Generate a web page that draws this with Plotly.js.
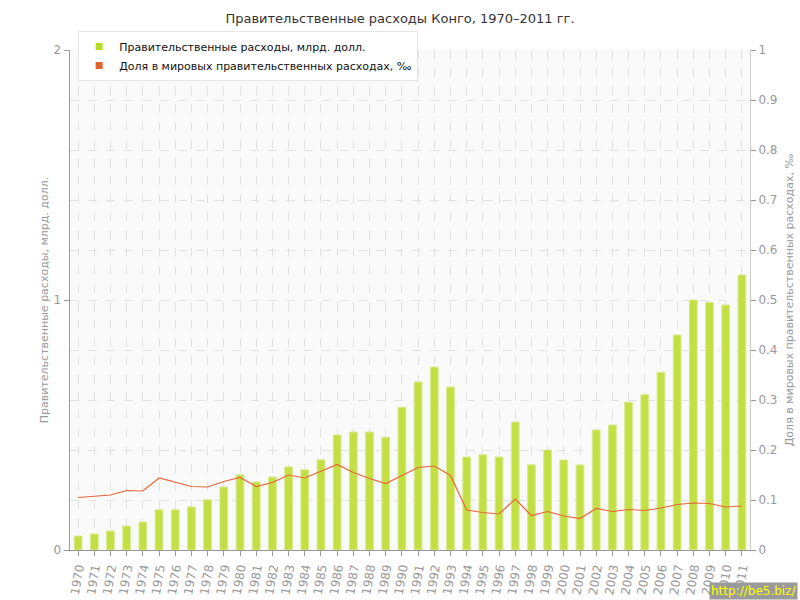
<!DOCTYPE html>
<html>
<head>
<meta charset="utf-8">
<script src="https://cdn.plot.ly/plotly-3.0.1.min.js"></script>
<style>html,body{margin:0;padding:0;background:#fff;}#chart{width:800px;height:600px;}</style>
</head>
<body>
<div id="chart"></div>
<script>
const years = ["1970","1971","1972","1973","1974","1975","1976","1977","1978","1979","1980","1981","1982","1983","1984","1985","1986","1987","1988","1989","1990","1991","1992","1993","1994","1995","1996","1997","1998","1999","2000","2001","2002","2003","2004","2005","2006","2007","2008","2009","2010","2011"];
const spending = [0.056,0.064,0.076,0.096,0.112,0.161,0.161,0.172,0.201,0.252,0.301,0.272,0.292,0.332,0.321,0.361,0.46,0.472,0.472,0.451,0.571,0.672,0.732,0.652,0.372,0.381,0.372,0.512,0.341,0.4,0.36,0.34,0.48,0.5,0.591,0.621,0.711,0.86,1.0,0.991,0.98,1.1];
const share = [0.105,0.107,0.11,0.119,0.118,0.144,0.135,0.127,0.126,0.137,0.145,0.127,0.135,0.15,0.144,0.157,0.171,0.155,0.143,0.133,0.149,0.165,0.168,0.149,0.08,0.075,0.072,0.102,0.069,0.077,0.068,0.063,0.083,0.077,0.081,0.079,0.084,0.091,0.094,0.093,0.086,0.088];
const seriesNames = ["Правительственные расходы, млрд. долл.", "Доля в мировых правительственных расходах, ‰"];
const barColor = "#c4df43";
const lineColor = "#e8653a";
const font = "DejaVu Sans, Verdana, sans-serif";

const traces = [
  {type:"bar", x:years, y:spending, name:seriesNames[0], showlegend:false, width:0.48,
   marker:{color:barColor, line:{color:"#d9ea90", width:1}}, yaxis:"y", hoverinfo:"x+y"},
  {type:"scatter", mode:"lines", x:years, y:share, name:seriesNames[1], showlegend:false,
   line:{color:lineColor, width:1.2}, yaxis:"y2"},
  {type:"scatter", mode:"markers", x:[null], y:[null], name:seriesNames[0],
   marker:{symbol:"square", size:7, color:"#b5dc2a"}},
  {type:"scatter", mode:"markers", x:[null], y:[null], name:seriesNames[1],
   marker:{symbol:"square", size:7, color:"#e0622f"}}
];

const layout = {
  width:800, height:600,
  margin:{l:70, r:50, t:50, b:50},
  paper_bgcolor:"#ffffff",
  plot_bgcolor:"#fafafa",
  font:{family:font, size:11, color:"#999"},
  title:{text:"Правительственные расходы Конго, 1970–2011 гг.", x:0.5, xanchor:"center", y:0.97, yanchor:"middle",
         font:{family:font, size:13, color:"#333"}},
  bargap:0.5,
  xaxis:{type:"category", range:[-0.5,41.5], tickangle:-80, tickfont:{family:font, size:12, color:"#999"},
         showgrid:true, gridcolor:"#e2e2e2", griddash:"dash", gridwidth:1,
         showline:true, linecolor:"#999", linewidth:1,
         ticks:"outside", ticklen:5, tickcolor:"#999", fixedrange:true},
  yaxis:{range:[0,2], dtick:1, showgrid:false, zeroline:false,
         showline:true, linecolor:"#999", linewidth:1.5,
         ticks:"outside", ticklen:5, tickcolor:"#999",
         tickfont:{family:font, size:12, color:"#999"},
         title:{text:seriesNames[0], font:{family:font, size:11, color:"#999"}, standoff:2}},
  yaxis2:{range:[0,1], dtick:0.1, overlaying:"y", side:"right",
          showgrid:true, gridcolor:"#e2e2e2", griddash:"dash", gridwidth:1, zeroline:false,
          showline:true, linecolor:"#ccc", linewidth:1,
          ticks:"outside", ticklen:5, tickcolor:"#999",
          tickfont:{family:font, size:12, color:"#999"},
          title:{text:seriesNames[1], font:{family:font, size:11, color:"#999"}, standoff:8}},
  legend:{x:0.012, y:1.038, xanchor:"left", yanchor:"top", bgcolor:"#ffffff", bordercolor:"#e6e6e6", borderwidth:1,
          font:{family:font, size:11, color:"#111"}, itemwidth:30, tracegroupgap:0},
  annotations:[{text:"http://be5.biz/", xref:"paper", yref:"paper", x:1.07, y:-0.1, xanchor:"right", yanchor:"bottom",
                showarrow:false, bgcolor:"#9a9a9a", font:{family:font, size:12, color:"#ffff00"}, borderpad:1}]
};

Plotly.newPlot("chart", traces, layout, {displayModeBar:false, staticPlot:true});
</script>
</body>
</html>
